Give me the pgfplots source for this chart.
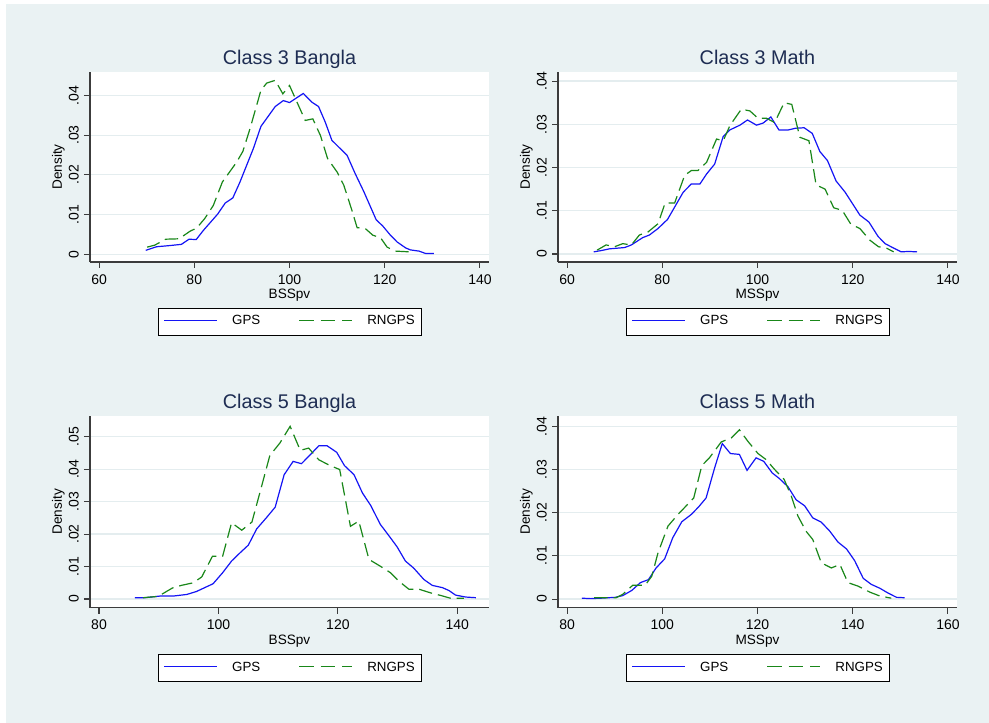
\documentclass[border=0pt]{standalone}
\usepackage{fontspec}
\setmainfont{Liberation Sans}
\usepackage{pgfplots}
\pgfplotsset{compat=1.18}
\definecolor{bgc}{HTML}{EAF2F3}
\definecolor{gridc}{HTML}{E4EDEF}
\definecolor{titc}{HTML}{1E2D53}
\definecolor{gpsc}{RGB}{20,20,245}
\definecolor{rngc}{RGB}{25,135,25}
\definecolor{axc}{RGB}{60,60,60}
\tikzset{
 gps/.style={color=gpsc, draw=gpsc, line width=0.9pt, solid},
 rng/.style={color=rngc, draw=rngc, line width=0.9pt, dash pattern=on 10pt off 4.5pt},
}
\newcommand{\gpssample}{\textcolor{gpsc}{\rule[3pt]{39.75pt}{0.9pt}}\hspace{11.25pt}}
\newcommand{\rngsample}{\textcolor{rngc}{\rule[3pt]{11pt}{0.9pt}\hspace{5pt}\rule[3pt]{11pt}{0.9pt}\hspace{5pt}\rule[3pt]{7.75pt}{0.9pt}}\hspace{11.25pt}}
\pgfplotsset{
 panel/.style={
  scale only axis, width=299.25pt, anchor=south west,
  axis x line*=bottom, axis y line*=left,
  axis line style={draw=axc, line width=0.8pt},
  every tick/.style={draw=axc, line width=0.8pt},
  tick align=outside, major tick length=4.5pt,
  scaled y ticks=false, scaled x ticks=false,
  ymajorgrids, grid style={draw=gridc, line width=0.9pt},
  axis background/.style={fill=white},
  ticklabel style={font=\fontsize{10.5}{12}\selectfont, inner sep=0pt},
  xticklabel style={anchor=north},
  yticklabel style={rotate=90, anchor=south},
  xticklabel shift=4.5pt, yticklabel shift=3.75pt,
  every axis title shift=0pt,
  title style={font=\fontsize{14.85}{16}\selectfont, color=titc, at={(0.5,1.0386)}, anchor=base, yshift=0pt, inner sep=0pt},
  xlabel style={font=\fontsize{10.2}{12}\selectfont, at={(0.5,-0.1415)}, anchor=north, inner sep=0pt},
  ylabel style={font=\fontsize{10.2}{12}\selectfont, at={(-0.06266,0.5)}, rotate=0, anchor=south, inner sep=0pt},
  ylabel={Density},
  legend columns=2,
  legend style={at={(0.5,-0.2421)}, anchor=north, fill=white,
    font=\fontsize{10}{12}\selectfont, inner xsep=2.5pt, inner ysep=3pt,
    nodes={inner sep=2pt, text height=7.5pt, text depth=2.5pt},
    /tikz/every odd column/.append style={column sep=0pt},
    /tikz/every even column/.append style={column sep=25.25pt}},
 },
}
\begin{document}
\begin{tikzpicture}
\fill[white] (0,0) rectangle (741.75pt,542.25pt);
\fill[bgc] (4.5pt,0) rectangle (741.75pt,539.25pt);

% Panel 1
\begin{axis}[panel, at={(67.5pt,345.75pt)}, height=142.5pt,
  xmin=58.1, xmax=141.9, ymin=-0.00194, ymax=0.0459,
  xtick={60,80,100,120,140}, xticklabels={60,80,100,120,140},
  ytick={0,0.01,0.02,0.03,0.04}, yticklabels={0,.01,.02,.03,.04},
  title={Class 3 Bangla}, xlabel={BSSpv}]
\addlegendimage{empty legend}\addlegendentry{\gpssample GPS}
\addlegendimage{empty legend}\addlegendentry{\rngsample RNGPS}
\addplot[gps, no markers, forget plot] coordinates {(69.8,0.0010)(72.1,0.0019)(74.9,0.0022)(77.3,0.0025)(78.9,0.0038)(80.4,0.0037)(81.9,0.0060)(84.9,0.0101)(86.5,0.0129)(88.1,0.0142)(89.6,0.0182)(92.4,0.0266)(94.0,0.0322)(97.0,0.0372)(98.7,0.0387)(100.0,0.0382)(102.9,0.0405)(104.7,0.0383)(106.1,0.0372)(107.5,0.0333)(108.9,0.0287)(112.1,0.0249)(113.8,0.0203)(115.6,0.0158)(118.2,0.0087)(119.6,0.0071)(121.2,0.0048)(122.6,0.0031)(124.4,0.0016)(125.4,0.0011)(127.2,0.0008)(128.6,0.0002)(130.3,0.0002)};
\addplot[rng, no markers, forget plot] coordinates {(70.1,0.0018)(71.7,0.0023)(74.0,0.0038)(76.8,0.0039)(79.1,0.0058)(80.5,0.0066)(82.2,0.0090)(84.0,0.0123)(85.9,0.0182)(88.9,0.0232)(90.2,0.0259)(91.7,0.0316)(94.0,0.0413)(95.2,0.0431)(97.0,0.0438)(98.6,0.0404)(100.0,0.0425)(103.3,0.0337)(104.9,0.0341)(106.5,0.0299)(108.0,0.0241)(110.0,0.0207)(111.4,0.0174)(113.1,0.0111)(114.2,0.0067)(115.9,0.0065)(117.5,0.0048)(119.1,0.0042)(120.5,0.0018)(122.2,0.0008)(125.4,0.0006)};
\end{axis}

% Panel 2
\begin{axis}[panel, at={(418.5pt,345.75pt)}, height=142.5pt,
  xmin=58.1, xmax=141.9, ymin=-0.00184, ymax=0.0421,
  xtick={60,80,100,120,140}, xticklabels={60,80,100,120,140},
  ytick={0,0.01,0.02,0.03,0.04}, yticklabels={0,.01,.02,.03,.04},
  title={Class 3 Math}, xlabel={MSSpv}]
\addlegendimage{empty legend}\addlegendentry{\gpssample GPS}
\addlegendimage{empty legend}\addlegendentry{\rngsample RNGPS}
\addplot[gps, no markers, forget plot] coordinates {(65.6,0.0005)(67.2,0.0008)(68.9,0.0012)(72.1,0.0015)(73.5,0.0021)(75.9,0.0038)(77.3,0.0044)(79.1,0.0059)(81.1,0.0080)(84.4,0.0143)(86.1,0.0162)(87.9,0.0162)(89.3,0.0185)(91.0,0.0208)(92.8,0.0272)(94.2,0.0287)(96.3,0.0298)(97.9,0.0310)(99.8,0.0298)(101.2,0.0303)(102.8,0.0317)(104.5,0.0287)(106.5,0.0287)(108.0,0.0291)(109.8,0.0292)(111.5,0.0279)(113.1,0.0237)(114.7,0.0216)(116.5,0.0169)(118.4,0.0143)(120.1,0.0114)(121.5,0.0090)(123.4,0.0074)(125.3,0.0041)(126.8,0.0024)(128.2,0.0016)(130.2,0.0005)(131.7,0.0006)(133.5,0.0005)};
\addplot[rng, no markers, forget plot] coordinates {(66.3,0.0009)(68.2,0.0021)(70.0,0.0017)(71.7,0.0024)(73.5,0.0021)(75.2,0.0044)(77.0,0.0051)(79.1,0.0070)(80.6,0.0118)(82.6,0.0118)(84.7,0.0182)(86.1,0.0193)(87.5,0.0193)(89.3,0.0212)(91.4,0.0266)(92.8,0.0262)(94.2,0.0297)(96.6,0.0335)(98.4,0.0331)(100.1,0.0314)(101.9,0.0314)(103.6,0.0304)(105.6,0.0350)(107.2,0.0346)(108.9,0.0270)(110.8,0.0262)(112.3,0.0160)(114.2,0.0150)(116.0,0.0107)(117.8,0.0101)(119.6,0.0069)(121.5,0.0059)(123.6,0.0032)(125.4,0.0017)(127.2,0.0013)(128.6,0.0005)};
\end{axis}

% Panel 3
\begin{axis}[panel, at={(67.5pt,86.475pt)}, height=143.8pt,
  xmin=78.49, xmax=145.3, ymin=-0.00268, ymax=0.0564,
  xtick={80,100,120,140}, xticklabels={80,100,120,140},
  ytick={0,0.01,0.02,0.03,0.04,0.05}, yticklabels={0,.01,.02,.03,.04,.05},
  title={Class 5 Bangla}, xlabel={BSSpv}]
\addlegendimage{empty legend}\addlegendentry{\gpssample GPS}
\addlegendimage{empty legend}\addlegendentry{\rngsample RNGPS}
\addplot[gps, no markers, forget plot] coordinates {(86.0,0.0004)(87.7,0.0004)(90.2,0.0009)(92.4,0.0009)(94.7,0.0014)(96.3,0.0023)(97.7,0.0035)(99.1,0.0047)(100.7,0.0081)(102.2,0.0117)(103.6,0.0142)(105.0,0.0166)(106.4,0.0216)(108.1,0.0252)(109.5,0.0283)(111.0,0.0383)(112.5,0.0424)(113.9,0.0417)(115.4,0.0445)(116.8,0.0472)(118.2,0.0472)(119.8,0.0452)(121.1,0.0411)(122.7,0.0383)(124.1,0.0327)(125.5,0.0288)(127.1,0.0230)(128.5,0.0196)(129.9,0.0161)(131.3,0.0117)(132.7,0.0095)(134.4,0.0060)(135.8,0.0042)(137.5,0.0035)(138.6,0.0026)(139.7,0.0012)(141.4,0.0006)(143.1,0.0004)};
\addplot[rng, no markers, forget plot] coordinates {(87.4,0.0004)(89.9,0.0008)(92.3,0.0034)(93.8,0.0042)(95.8,0.0050)(97.2,0.0068)(99.0,0.0132)(100.7,0.0132)(102.2,0.0235)(103.9,0.0212)(105.6,0.0237)(107.0,0.0332)(108.6,0.0442)(110.3,0.0481)(112.0,0.0532)(113.7,0.0458)(115.1,0.0465)(116.8,0.0429)(118.7,0.0411)(120.3,0.0399)(122.1,0.0224)(123.5,0.0240)(125.2,0.0122)(127.1,0.0101)(128.8,0.0081)(130.2,0.0055)(131.9,0.0030)(133.6,0.0030)(135.5,0.0019)(137.2,0.0011)(138.9,0.0002)(141.1,0.0002)};
\end{axis}

% Panel 4
\begin{axis}[panel, at={(418.5pt,86.475pt)}, height=143.8pt,
  xmin=78.1, xmax=161.9, ymin=-0.002, ymax=0.0424,
  xtick={80,100,120,140,160}, xticklabels={80,100,120,140,160},
  ytick={0,0.01,0.02,0.03,0.04}, yticklabels={0,.01,.02,.03,.04},
  title={Class 5 Math}, xlabel={MSSpv}]
\addlegendimage{empty legend}\addlegendentry{\gpssample GPS}
\addlegendimage{empty legend}\addlegendentry{\rngsample RNGPS}
\addplot[gps, no markers, forget plot] coordinates {(83.1,0.0002)(85.0,0.0001)(87.1,0.0002)(90.1,0.0004)(91.7,0.0008)(93.6,0.0020)(95.4,0.0038)(97.1,0.0045)(98.7,0.0072)(100.5,0.0093)(102.2,0.0142)(104.1,0.0179)(106.1,0.0196)(107.6,0.0213)(109.2,0.0234)(111.0,0.0304)(112.6,0.0360)(114.3,0.0337)(116.2,0.0335)(117.8,0.0298)(119.7,0.0327)(121.3,0.0319)(123.1,0.0292)(124.6,0.0279)(126.4,0.0260)(128.1,0.0230)(129.9,0.0216)(131.6,0.0188)(133.4,0.0178)(135.2,0.0157)(136.9,0.0132)(138.7,0.0116)(140.4,0.0089)(142.2,0.0048)(143.9,0.0034)(145.7,0.0025)(147.4,0.0014)(149.2,0.0004)(150.9,0.0003)};
\addplot[rng, no markers, forget plot] coordinates {(85.7,0.0003)(90.3,0.0003)(91.7,0.0011)(93.8,0.0032)(96.4,0.0032)(97.8,0.0053)(99.1,0.0107)(101.2,0.0169)(103.3,0.0196)(106.6,0.0234)(108.3,0.0309)(109.9,0.0327)(112.4,0.0364)(114.5,0.0373)(116.2,0.0392)(118.0,0.0365)(120.1,0.0337)(121.8,0.0323)(123.6,0.0300)(125.6,0.0277)(127.1,0.0238)(128.5,0.0192)(130.2,0.0157)(131.6,0.0138)(133.4,0.0084)(135.5,0.0072)(137.3,0.0080)(139.0,0.0038)(141.1,0.0030)(143.6,0.0016)(145.7,0.0007)(148.1,0.0002)};
\end{axis}
\pgfresetboundingbox
\useasboundingbox (0,0) rectangle (741.75pt,542.25pt);
\end{tikzpicture}
\end{document}
